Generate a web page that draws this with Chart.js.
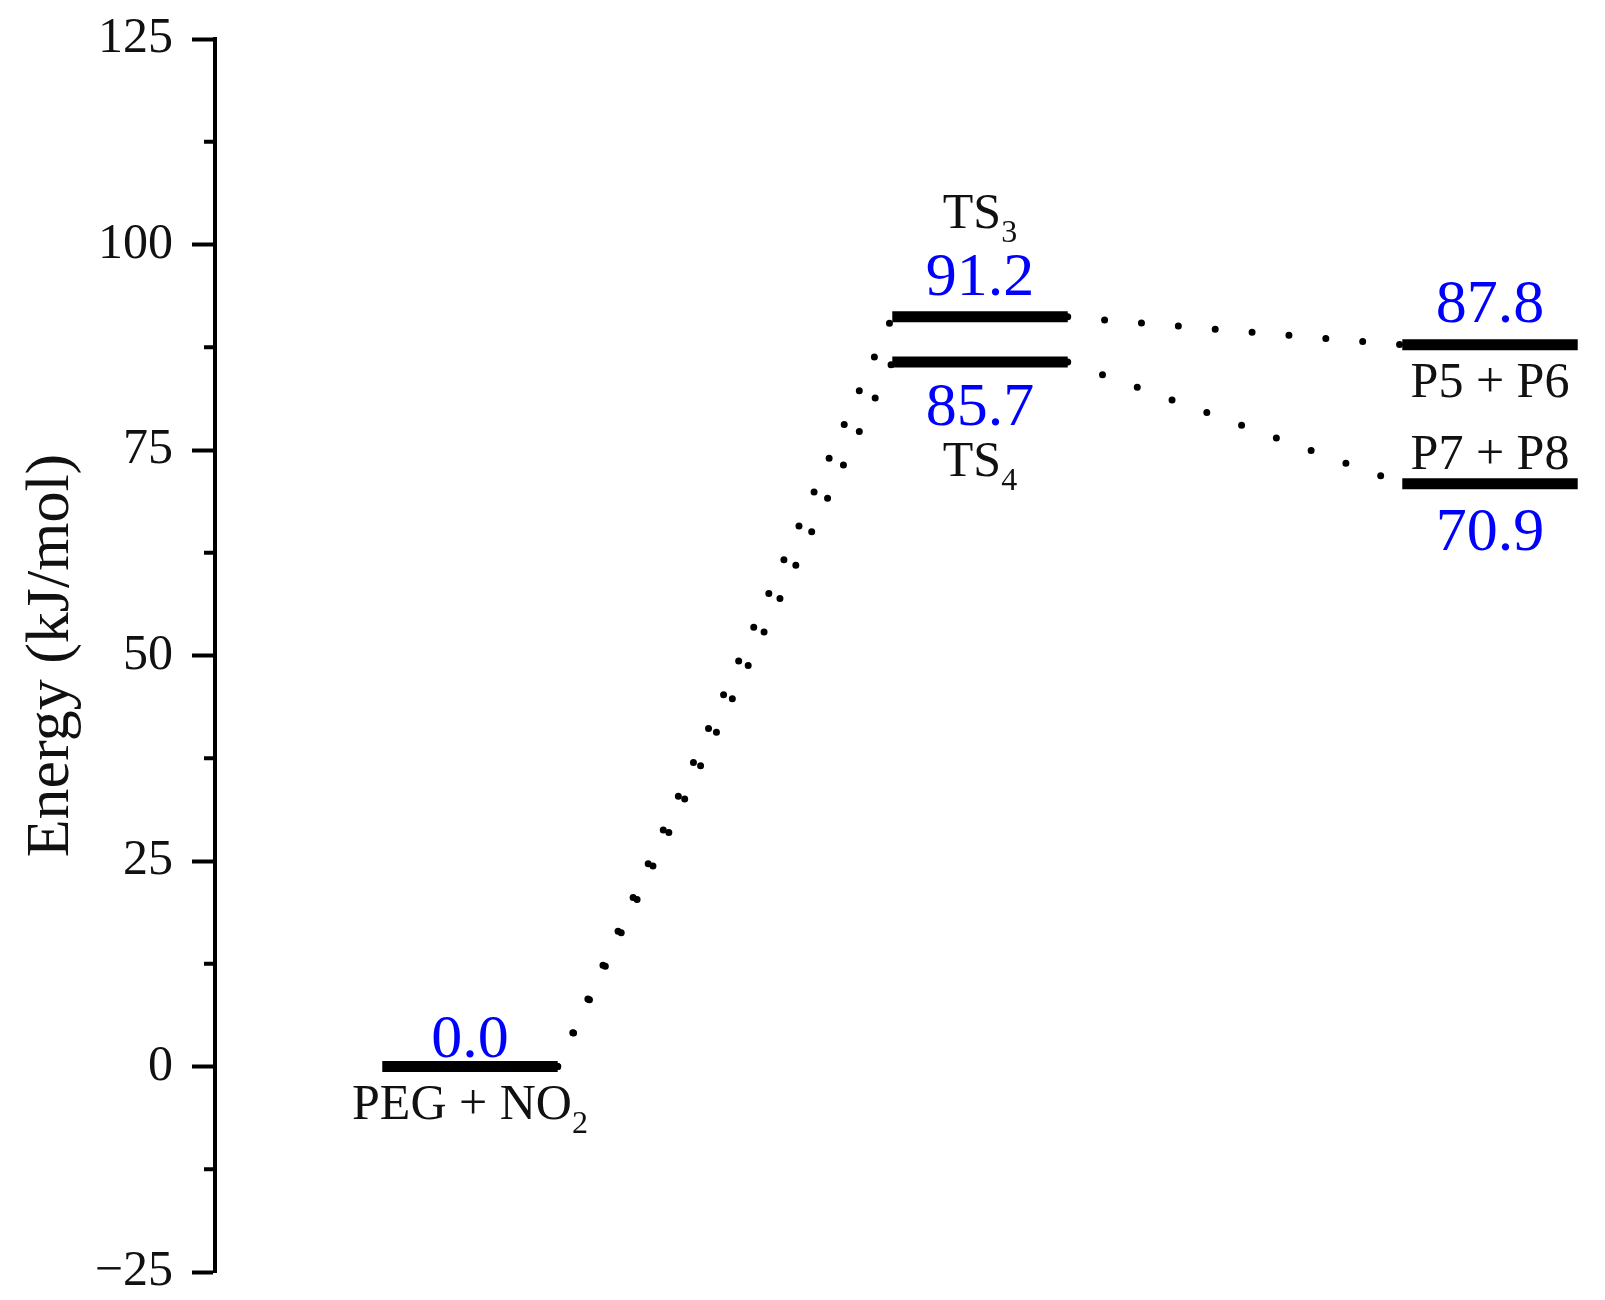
<!DOCTYPE html>
<html>
<head>
<meta charset="utf-8">
<script src="https://cdn.jsdelivr.net/npm/chart.js@4.4.1/dist/chart.umd.min.js"></script>
<style>
  html, body { margin: 0; padding: 0; background: #fff; }
  #wrap { width: 1605px; height: 1300px; }
</style>
</head>
<body>
<div id="wrap"><canvas id="mycanvas"></canvas></div>
<script>
// states of the diagram
var stateNames  = ['PEG + NO', 'TS', 'TS', 'P5 + P6', 'P7 + P8'];
var stateSubs   = ['2', '3', '4', '', ''];
var stateStage  = [1, 2, 2, 3, 3];
var stateEnergy = [0.0, 91.2, 85.7, 87.8, 70.9];
// dotted connections between states
var linkFrom = [0, 0, 1, 2];
var linkTo   = [1, 2, 3, 4];
var yTicks = [-25, 0, 25, 50, 75, 100, 125];

var FONT = '"Liberation Serif", "Times New Roman", serif';
var HALF = 0.172; // half width of a level line, in stage units
// text offsets (px) from the level line: value label and state name baselines
var labelPos = [
  {val: -10, name: 52},
  {val: -22, name: -89},
  {val: 63,  name: 114},
  {val: -23, name: 52},
  {val: 66,  name: -15}
];

var datasets = [];
for (var i = 0; i < stateEnergy.length; i++) {
  datasets.push({
    data: [{x: stateStage[i] - HALF, y: stateEnergy[i]}, {x: stateStage[i] + HALF, y: stateEnergy[i]}],
    borderColor: '#000',
    borderWidth: 11,
    borderCapStyle: 'butt',
    pointRadius: 0
  });
}
for (var j = 0; j < linkFrom.length; j++) {
  var a = linkFrom[j], b = linkTo[j];
  datasets.push({
    data: [{x: stateStage[a] + HALF, y: stateEnergy[a]}, {x: stateStage[b] - HALF, y: stateEnergy[b]}],
    borderColor: '#000',
    borderWidth: 7,
    borderDash: [0, 37],
    borderCapStyle: 'round',
    pointRadius: 0
  });
}

function drawName(ctx, main, sub, cx, y) {
  ctx.font = '50px ' + FONT;
  var w1 = ctx.measureText(main).width;
  ctx.font = '32px ' + FONT;
  var w2 = sub ? ctx.measureText(sub).width : 0;
  var x0 = cx - (w1 + w2) / 2;
  ctx.textAlign = 'left';
  ctx.fillStyle = '#111';
  ctx.font = '50px ' + FONT;
  ctx.fillText(main, x0, y);
  if (sub) {
    ctx.font = '32px ' + FONT;
    ctx.fillText(sub, x0 + w1, y + 14);
  }
}

var labelsPlugin = {
  id: 'levelLabels',
  afterDatasetsDraw: function(chart) {
    var ctx = chart.ctx, xs = chart.scales.x, ys = chart.scales.y;
    ctx.save();
    ctx.textBaseline = 'alphabetic';
    for (var i = 0; i < stateEnergy.length; i++) {
      var cx = xs.getPixelForValue(stateStage[i]);
      var py = ys.getPixelForValue(stateEnergy[i]);
      ctx.textAlign = 'center';
      ctx.fillStyle = '#0000ff';
      ctx.font = '62px ' + FONT;
      ctx.fillText(stateEnergy[i].toFixed(1), cx, py + labelPos[i].val);
      drawName(ctx, stateNames[i], stateSubs[i], cx, py + labelPos[i].name);
    }
    // minor ticks half way between the labelled ones
    var ax = chart.chartArea.left;
    ctx.strokeStyle = '#000';
    ctx.lineWidth = 4;
    for (var k = 0; k < ys.ticks.length - 1; k++) {
      var v = (ys.ticks[k].value + ys.ticks[k + 1].value) / 2;
      var y = ys.getPixelForValue(v);
      ctx.beginPath();
      ctx.moveTo(ax - 11, y);
      ctx.lineTo(ax, y);
      ctx.stroke();
    }
    ctx.restore();
  }
};

var ctx = document.getElementById('mycanvas');
var chart = new Chart(ctx, {
  type: 'line',
  data: { datasets: datasets },
  plugins: [labelsPlugin],
  options: {
    responsive: true,
    maintainAspectRatio: false,
    animation: false,
    layout: { padding: { left: 0, right: 13, top: 39, bottom: 28 } },
    plugins: { legend: { display: false }, tooltip: { enabled: false } },
    elements: { line: { tension: 0 } },
    datasets: { line: { clip: false } },
    scales: {
      x: { type: 'linear', display: false, min: 0.5, max: 3.2 },
      y: {
        type: 'linear',
        min: -25,
        max: 125,
        afterBuildTicks: function(s) { s.ticks = yTicks.map(function(v) { return {value: v}; }); },
        afterFit: function(s) { s.width = 215; s.paddingTop = 0; s.paddingBottom = 0; },
        border: { display: true, color: '#000', width: 4 },
        grid: { display: true, drawOnChartArea: false, drawTicks: true, tickLength: 23, tickWidth: 4, tickColor: '#000' },
        ticks: {
          padding: 19,
          color: '#111',
          font: { family: FONT, size: 50 },
          callback: function(v) { return v < 0 ? '\u2212' + Math.abs(v) : String(v); }
        },
        title: {
          display: true,
          text: 'Energy (kJ/mol)',
          color: '#111',
          font: { family: FONT, size: 62 },
          padding: { top: 15 }
        }
      }
    }
  }
});
</script>
</body>
</html>
